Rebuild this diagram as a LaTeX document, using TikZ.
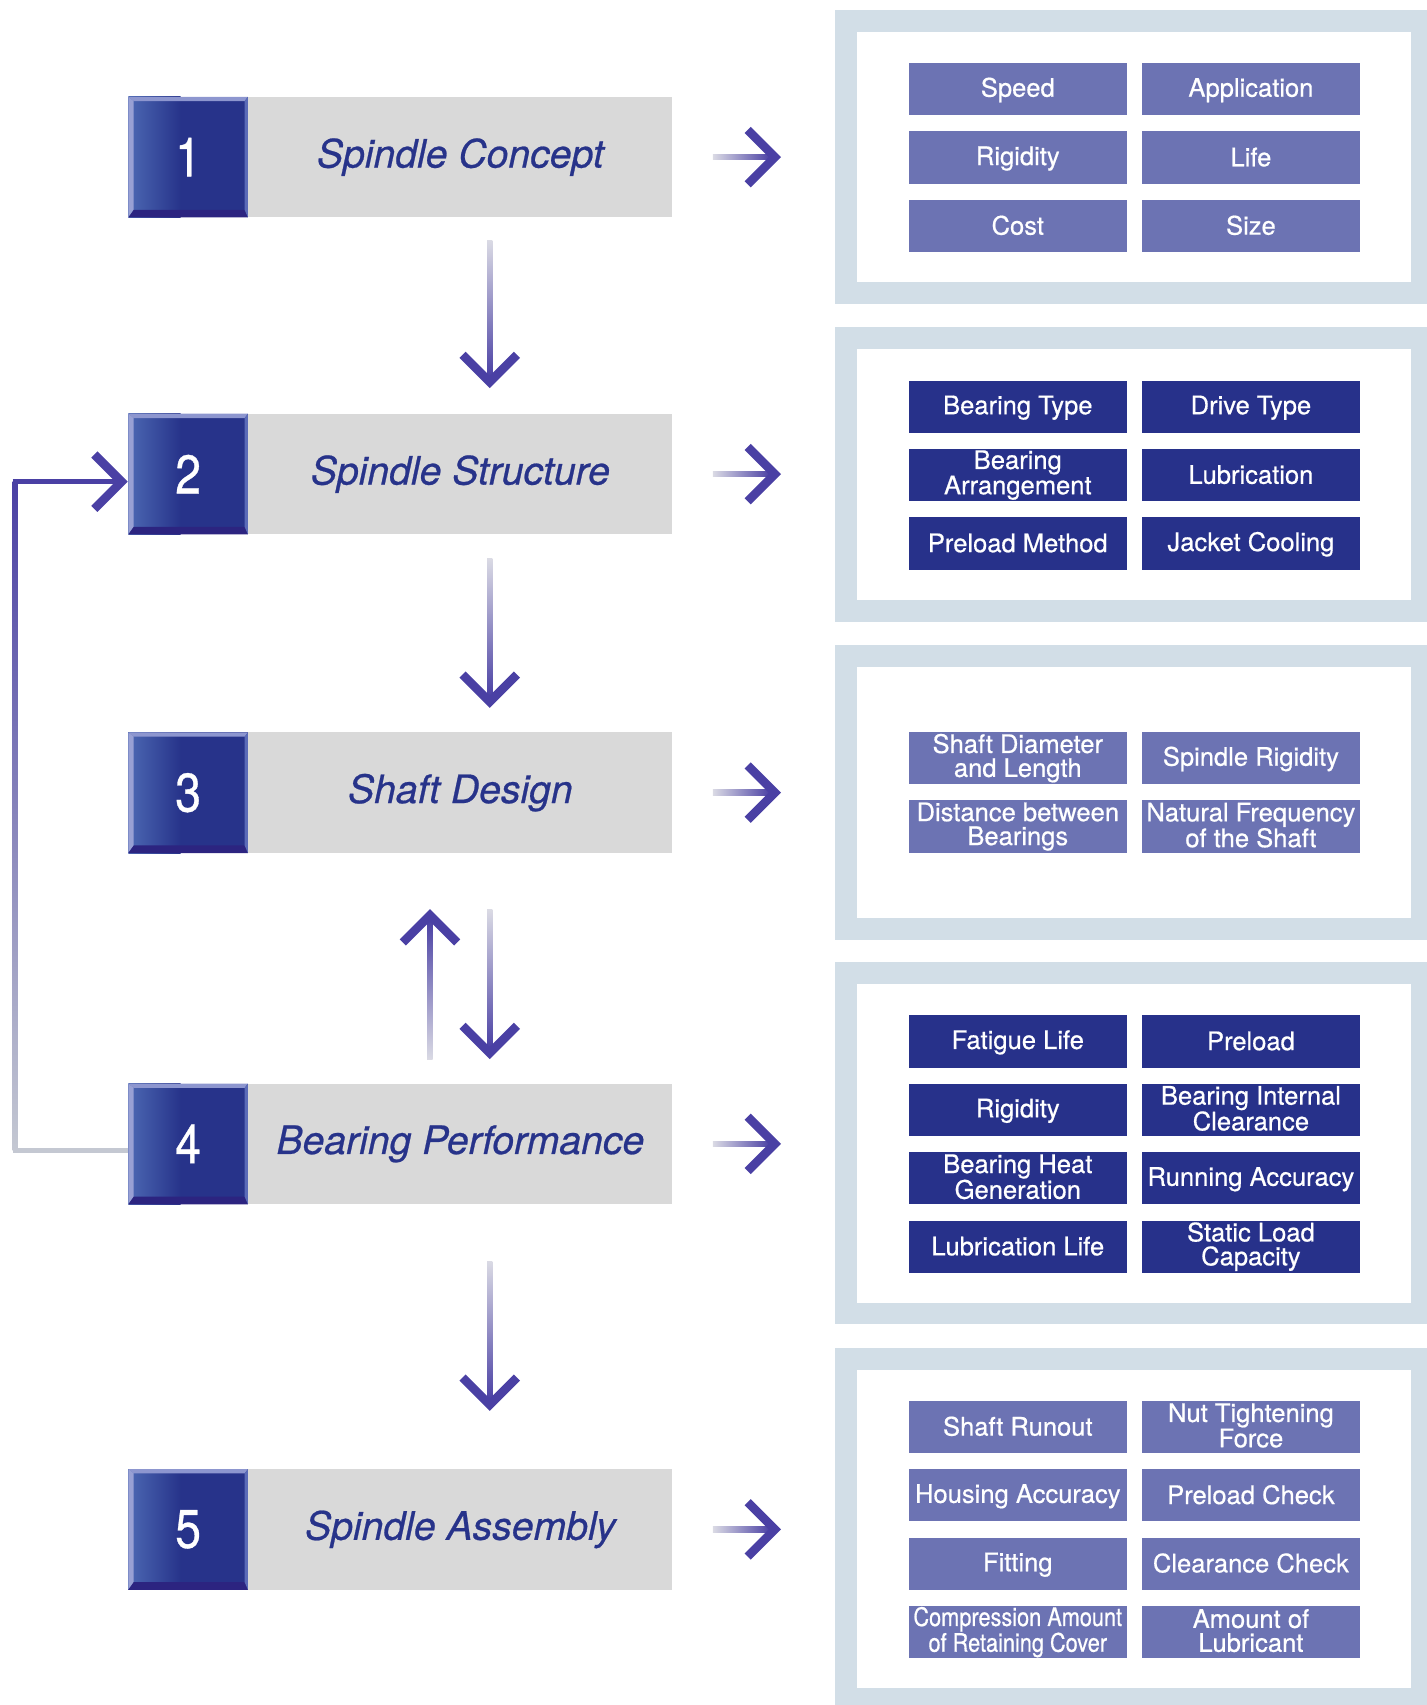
\documentclass[tikz,border=0pt]{standalone}
\usepackage{fontspec}
\setmainfont{TeX Gyre Heros}[FakeBold=0.6]
\newfontfamily\narrowfont{TeX Gyre Heros}[FakeStretch=0.85, FakeBold=0.6]
\usetikzlibrary{positioning, calc}

\definecolor{stepnavy}{HTML}{27338A}
\definecolor{itemdark}{HTML}{27318A}
\definecolor{itemlight}{HTML}{6C73B3}
\definecolor{panelblue}{HTML}{D2DEE7}
\definecolor{stepgray}{HTML}{D9D9D9}
\definecolor{arrowpurple}{HTML}{4A40A4}
\definecolor{shaftlight}{HTML}{DADAE4}
\definecolor{numlight}{HTML}{4C68B3}
\definecolor{beveltop}{HTML}{8D96CF}
\definecolor{bevelright}{HTML}{5B6BB8}
\definecolor{bevelbot}{HTML}{2C2480}
\definecolor{fbgray}{HTML}{C4C8D2}

\tikzset{
  chev/.style={draw=arrowpurple, line width=8pt, line join=miter, line cap=butt},
}
% arrow heads and shaded shafts
\newcommand{\chevright}[1]{\draw[chev] ([shift={(-25pt,25pt)}]#1) -- (#1) -- ([shift={(-25pt,-25pt)}]#1);}
\newcommand{\chevdown}[1]{\draw[chev] ([shift={(-25pt,25pt)}]#1) -- (#1) -- ([shift={(25pt,25pt)}]#1);}
\newcommand{\chevup}[1]{\draw[chev] ([shift={(-25pt,-25pt)}]#1) -- (#1) -- ([shift={(25pt,-25pt)}]#1);}
\newcommand{\shaftright}[2]{\shade[left color=shaftlight, right color=arrowpurple] ([yshift=-2.5pt]#1) rectangle ([xshift=-4pt,yshift=2.5pt]#2);}
\newcommand{\shaftdown}[2]{\shade[top color=shaftlight, bottom color=arrowpurple] ([xshift=-2.5pt]#1) rectangle ([xshift=2.5pt,yshift=4pt]#2);}
\newcommand{\shaftup}[2]{\shade[bottom color=shaftlight, top color=arrowpurple] ([xshift=-2.5pt]#1) rectangle ([xshift=2.5pt,yshift=-4pt]#2);}

\begin{document}
\begin{tikzpicture}[x=1pt, y=-1pt,
    numbox/.style={minimum width=110pt, minimum height=111pt, inner sep=0pt, fill=stepnavy, text=white,
      font=\narrowfont\fontsize{50}{50}\selectfont,
      path picture={
        \coordinate (nw) at (path picture bounding box.north west);
        \coordinate (ne) at (path picture bounding box.north east);
        \coordinate (sw) at (path picture bounding box.south west);
        \coordinate (se) at (path picture bounding box.south east);
        \shade[left color=numlight, right color=stepnavy] (sw) rectangle ([xshift=48pt]nw);
        \fill[beveltop] (nw) -- (ne) -- ([shift={(-3pt,-4pt)}]ne) -- ([shift={(5pt,-4pt)}]nw) -- cycle;
        \fill[beveltop!90!white] (nw) -- ([shift={(5pt,-4pt)}]nw) -- ([shift={(5pt,7pt)}]sw) -- (sw) -- cycle;
        \fill[bevelbot] (sw) -- ([shift={(5pt,7pt)}]sw) -- ([shift={(-3pt,7pt)}]se) -- (se) -- cycle;
        \fill[bevelright] (ne) -- (se) -- ([shift={(-3pt,7pt)}]se) -- ([shift={(-3pt,-4pt)}]ne) -- cycle;
      }},
    stepbox/.style={minimum width=390pt, minimum height=111pt, inner sep=0pt, fill=stepgray, text=stepnavy,
      font=\itshape\fontsize{36}{40}\selectfont},
    infopanel/.style={draw=panelblue, line width=20pt, fill=white, minimum width=530pt, inner sep=0pt},
    itembox/.style={minimum width=200pt, minimum height=48pt, inner sep=0pt, align=center, text=white,
      font=\fontsize{23.5}{22}\selectfont,
      execute at begin node={\rule{0pt}{19pt}}, execute at end node={\rule[-3pt]{0pt}{3pt}}},
    lightitem/.style={itembox, fill=itemlight},
    darkitem/.style={itembox, fill=itemdark},
  ]
  \useasboundingbox (0,0) rectangle (1312,1568);

  % steps
  \node[numbox] (n1) at (173,144.5) {1};
  \node[stepbox, right=0pt of n1] (g1) {Spindle Concept};
  \node[numbox] (n2) at (173,436) {2};
  \node[stepbox, right=0pt of n2] (g2) {Spindle Structure};
  \node[numbox] (n3) at (173,729) {3};
  \node[stepbox, right=0pt of n3] (g3) {Shaft Design};
  \node[numbox] (n4) at (173,1052) {4};
  \node[stepbox, right=0pt of n4] (g4) {Bearing Performance};
  \node[numbox] (n5) at (173,1406.5) {5};
  \node[stepbox, right=0pt of n5] (g5) {Spindle Assembly};

  % panels
  \node[infopanel, minimum height=250pt] (p1) at (1043,144.5) {};
  \node[infopanel, minimum height=251pt] (p2) at (1043,436.5) {};
  \node[infopanel, minimum height=251pt] (p3) at (1043,728.5) {};
  \node[infopanel, minimum height=313pt] (p4) at (1043,1051.5) {};
  \node[infopanel, minimum height=312pt] (p5) at (1043,1406) {};

  % concept
  \node[lightitem] (speed) at ([xshift=-107pt,yshift=62.5pt]p1.center) {Speed};
  \node[lightitem, right=14pt of speed] (application) {Application};
  \node[lightitem, below=14.5pt of speed] (rigidity) {Rigidity};
  \node[lightitem, right=14pt of rigidity] (life) {Life};
  \node[lightitem, below=14.5pt of rigidity] (cost) {Cost};
  \node[lightitem, right=14pt of cost] (size) {Size};

  % structure
  \node[darkitem] (brgtype) at ([xshift=-107pt,yshift=62.5pt]p2.center) {Bearing Type};
  \node[darkitem, right=14pt of brgtype] (drivetype) {Drive Type};
  \node[darkitem, below=14.5pt of brgtype] (arrangement) {Bearing\\Arrangement};
  \node[darkitem, right=14pt of arrangement] (lubrication) {Lubrication};
  \node[darkitem, below=14.5pt of arrangement] (preloadmethod) {Preload Method};
  \node[darkitem, right=14pt of preloadmethod] (jacket) {Jacket Cooling};

  % shaft
  \node[lightitem] (diameter) at ([xshift=-107pt,yshift=31.25pt]p3.center) {Shaft Diameter\\and Length};
  \node[lightitem, right=14pt of diameter] (spindlerig) {Spindle Rigidity};
  \node[lightitem, below=14.5pt of diameter] (distance) {Distance between\\Bearings};
  \node[lightitem, right=14pt of distance] (frequency) {Natural Frequency\\of the Shaft};

  % performance
  \node[darkitem] (fatigue) at ([xshift=-107pt,yshift=93.75pt]p4.center) {Fatigue Life};
  \node[darkitem, right=14pt of fatigue] (preload) {Preload};
  \node[darkitem, below=14.5pt of fatigue] (brgrigidity) {Rigidity};
  \node[darkitem, right=14pt of brgrigidity] (clearance) {Bearing Internal\\Clearance};
  \node[darkitem, below=14.5pt of brgrigidity] (heat) {Bearing Heat\\Generation};
  \node[darkitem, right=14pt of heat] (running) {Running Accuracy};
  \node[darkitem, below=14.5pt of heat] (lublife) {Lubrication Life};
  \node[darkitem, right=14pt of lublife] (staticload) {Static Load\\Capacity};

  % assembly
  \node[lightitem] (runout) at ([xshift=-107pt,yshift=93.75pt]p5.center) {Shaft Runout};
  \node[lightitem, right=14pt of runout] (nut) {Nut Tightening\\Force};
  \node[lightitem, below=14.5pt of runout] (housing) {Housing Accuracy};
  \node[lightitem, right=14pt of housing] (preloadcheck) {Preload Check};
  \node[lightitem, below=14.5pt of housing] (fitting) {Fitting};
  \node[lightitem, right=14pt of fitting] (clearcheck) {Clearance Check};
  \node[lightitem, below=14.5pt of fitting, font=\narrowfont\fontsize{23.5}{22}\selectfont] (cover) {Compression Amount\\of Retaining Cover};
  \node[lightitem, right=14pt of cover] (lubamount) {Amount of\\Lubricant};

  % arrows to the panels
  \foreach \k in {1,...,5}{
    \coordinate (rs\k) at ([xshift=37pt]g\k.east);
    \coordinate (rt\k) at ([xshift=94pt]g\k.east);
    \shaftright{rs\k}{rt\k}
    \chevright{rt\k}
  }

  % arrows between the steps
  \coordinate (d1s) at ([xshift=27pt,yshift=-21pt]g1.south);
  \coordinate (d1t) at ([xshift=27pt,yshift=29pt]g2.north);
  \coordinate (d2s) at ([xshift=27pt,yshift=-22pt]g2.south);
  \coordinate (d2t) at ([xshift=27pt,yshift=28pt]g3.north);
  \coordinate (d3s) at ([xshift=27pt,yshift=-52pt]g3.south);
  \coordinate (d3t) at ([xshift=27pt,yshift=28pt]g4.north);
  \coordinate (d4s) at ([xshift=27pt,yshift=-52pt]g4.south);
  \coordinate (d4t) at ([xshift=27pt,yshift=59pt]g5.north);
  \coordinate (us) at ([xshift=-28pt,yshift=22pt]g4.north);
  \coordinate (ut) at ([xshift=-28pt,yshift=-57pt]g3.south);
  \foreach \k in {1,...,4}{
    \shaftdown{d\k s}{d\k t}
    \chevdown{d\k t}
  }
  \shaftup{us}{ut}
  \chevup{ut}

  % feedback from 4 to 2
  \coordinate (fbbot) at (14,1058);
  \coordinate (fbtop) at (14,443);
  \coordinate (fbtip) at ([xshift=-6pt,yshift=-7pt]n2.west);
  \draw[fbgray, line width=4pt] ([yshift=-6pt]n4.west) -- ([xshift=-2.5pt]fbbot);
  \shade[top color=arrowpurple, middle color=arrowpurple!55!fbgray, bottom color=fbgray]
    ([xshift=-2.5pt]fbtop) rectangle ([xshift=2.5pt]fbbot);
  \draw[arrowpurple, line width=5pt] ([xshift=-2.5pt]fbtop) -- ([xshift=-4pt]fbtip);
  \chevright{fbtip}
\end{tikzpicture}
\end{document}
